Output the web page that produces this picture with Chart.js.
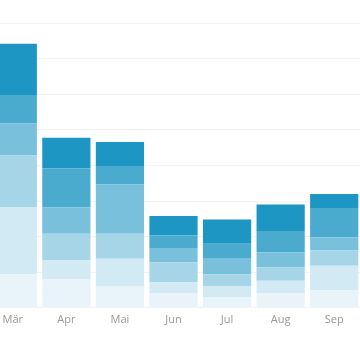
<!DOCTYPE html>
<html>
<head>
<meta charset="utf-8">
<script src="https://cdn.jsdelivr.net/npm/chart.js@4"></script>
<style>
    html, body { margin: 0; padding: 0; background: #fff; }
    #frame { position: relative; width: 360px; height: 360px; overflow: hidden; }
    #wrap { position: absolute; left: -14px; top: 0; width: 375px; height: 360px; }
</style>
</head>
<body>
<div id="frame">
    <div id="wrap"><canvas id="monthChart"></canvas></div>
</div>
<script>
const months = ['Mär', 'Apr', 'Mai', 'Jun', 'Jul', 'Aug', 'Sep'];

// stacked from bottom (lightest) to top (darkest)
const series1 = [47, 40, 30, 20, 15, 20, 25];
const series2 = [94, 27, 39, 16, 15, 18, 34];
const series3 = [73, 37, 35, 28, 17, 19, 22];
const series4 = [45, 37, 69, 19, 23, 21, 18];
const series5 = [40, 55, 26, 19, 20, 30, 41];
const series6 = [72, 43, 34, 27, 34, 37, 20];

const yMax = 400;
const yStep = 50;

const seriesList = [series1, series2, series3, series4, series5, series6];
// solid shades so the grid doesn't show through the bars
const shades = ['#e8f4f9', '#d2eaf3', '#a5d5e7', '#78c0db', '#4babcf', '#1e96c3'];

const ctx = document.getElementById('monthChart').getContext('2d');
new Chart(ctx, {
    type: 'bar',
    data: {
        labels: months,
        datasets: seriesList.map((values, i) => ({
            label: 'Reihe ' + (i + 1),
            data: values,
            backgroundColor: shades[i],
            borderWidth: 0,
            barPercentage: 0.9,
            categoryPercentage: 1
        }))
    },
    options: {
        responsive: true,
        maintainAspectRatio: false,
        animation: false,
        layout: { padding: { top: 23, bottom: 29, left: 0, right: 0 } },
        plugins: {
            legend: { display: false },
            tooltip: { enabled: false }
        },
        scales: {
            x: {
                stacked: true,
                grid: { display: false, drawTicks: false },
                border: { display: false },
                ticks: {
                    color: '#999',
                    padding: 5,
                    font: { family: 'Open Sans', size: 11 }
                }
            },
            y: {
                stacked: true,
                min: 0,
                max: yMax,
                ticks: { display: false, stepSize: yStep },
                grid: { color: '#f3f3f3', drawTicks: false },
                border: { display: false },
                afterFit: scale => { scale.width = 0; }
            }
        }
    }
});
</script>
</body>
</html>
